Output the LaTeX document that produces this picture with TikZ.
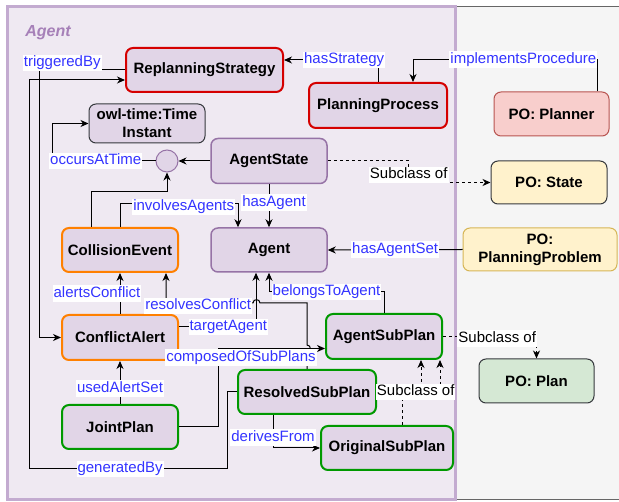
\documentclass[tikz,border=0pt]{standalone}
\usepackage{fontspec}
\setmainfont{Liberation Sans}
\usetikzlibrary{arrows.meta}

\definecolor{framefill}{HTML}{EFE9F2}
\definecolor{frameline}{HTML}{C3ABD0}
\definecolor{boxfill}{HTML}{E1D5E7}
\definecolor{purpleline}{HTML}{9673A6}
\definecolor{redline}{HTML}{D50000}
\definecolor{orangeline}{HTML}{FF8000}
\definecolor{greenline}{HTML}{009900}
\definecolor{linkblue}{HTML}{3333FF}
\definecolor{grayfill}{HTML}{F5F5F5}
\definecolor{grayline}{HTML}{666666}
\definecolor{plannerfill}{HTML}{F8CECC}
\definecolor{plannerline}{HTML}{B85450}
\definecolor{statefill}{HTML}{FFF2CC}
\definecolor{problemline}{HTML}{D6B656}
\definecolor{planfill}{HTML}{D5E8D4}
\definecolor{darkline}{HTML}{36393D}
\definecolor{titlecol}{HTML}{A680B8}

\tikzset{
  cls/.style={draw=purpleline, line width=1.5pt, fill=boxfill, rounded corners=7pt,
    minimum width=116pt, minimum height=44pt, inner sep=0pt, align=center,
    font=\fontsize{15pt}{18pt}\selectfont\bfseries},
  redcls/.style={cls, draw=redline, line width=2pt},
  orangecls/.style={cls, draw=orangeline, line width=2pt},
  greencls/.style={cls, draw=greenline, line width=2pt},
  pocls/.style={cls, line width=1pt},
  lbl/.style={fill=white, text=linkblue, inner sep=1pt, text height=11pt, text depth=3.5pt,
    font=\fontsize{15pt}{18pt}\selectfont},
  sub/.style={lbl, text=black},
  rel/.style={-{Stealth[length=8pt,width=7pt,inset=2.5pt]}, line width=1pt},
  subrel/.style={rel, dash pattern=on 3pt off 3pt},
  title/.style={text=titlecol, font=\fontsize{16pt}{18pt}\selectfont\bfseries\itshape}
}

\begin{document}
\begin{tikzpicture}[x=1pt,y=-1pt]
  \useasboundingbox (0,0) rectangle (619,502);
  % frames
  \draw[grayline, fill=grayfill, line width=1pt] (456,7) rectangle (640,500);
  \draw[frameline, fill=framefill, line width=3pt] (7,7) rectangle (455,500);
  \node[title] (agentTitle) at (48,33) {Agent};

  % classes
  \node[redcls, minimum width=157pt] (RS) at (204.5,70) {ReplanningStrategy};
  \node[redcls, minimum width=138pt, minimum height=45pt] (PP) at (378,105.5) {PlanningProcess};
  \node[pocls, fill=plannerfill, draw=plannerline, minimum width=115pt] (Planner) at (551.5,114) {PO: Planner};
  \node[cls, draw=darkline, line width=1pt, minimum height=39pt] (Time) at (147,123.5) {owl-time:Time\\Instant};
  \node[circle, draw=purpleline, fill=boxfill, line width=1pt, minimum size=22pt, inner sep=0pt] (Dot) at (167,161) {};
  \node[cls, minimum height=45pt] (AState) at (269,161) {AgentState};
  \node[pocls, fill=statefill, draw=darkline, minimum height=43pt] (PState) at (549,182.5) {PO: State};
  \node[orangecls] (CEvent) at (120,250) {CollisionEvent};
  \node[cls] (AgentN) at (269,250) {Agent};
  \node[pocls, fill=statefill, draw=problemline, minimum width=154pt, minimum height=43pt] (Problem) at (540,249.5) {PO:\\PlanningProblem};
  \node[orangecls, minimum height=45pt] (CAlert) at (120,337.5) {ConflictAlert};
  \node[greencls, minimum height=45pt] (ASub) at (384,336.5) {AgentSubPlan};
  \node[pocls, fill=planfill, draw=darkline, minimum width=115pt] (Plan) at (536.5,381) {PO: Plan};
  \node[greencls] (JPlan) at (120,427) {JointPlan};
  \node[greencls, minimum width=138pt] (RSub) at (307,392) {ResolvedSubPlan};
  \node[greencls, minimum width=132pt] (OSub) at (387,448) {OriginalSubPlan};

  % relations
  \draw[rel] (PP.north) |- node[lbl, pos=0.68] {hasStrategy} ([yshift=10pt]RS.east);
  \draw[rel] ([xshift=45.5pt]Planner.north) -- ++(0,-32)
    -- node[lbl, pos=0.4] {implementsProcedure} ++(-184,0) -- ([xshift=35pt]PP.north);
  \draw[rel] (RS.west) -- node[lbl, pos=0.73, yshift=7pt] {triggeredBy} ++(-86,0) |- (CAlert.west);
  \draw[rel] (RSub.west) -- ++(-10,0) -- ++(0,77)
    -- node[lbl, pos=0.54] {generatedBy} ++(-198,0) |- ([yshift=-10pt]RS.west);
  \draw[rel] (Dot.west) -- node[lbl, pos=0.58] {occursAtTime} ++(-103,0) |- (Time.west);
  \draw[rel] (AState.west) -- (Dot.east);
  \draw[rel] ([xshift=-29pt]CEvent.north) -- ++(0,-35) -| (Dot.south);
  \draw[rel] (CEvent.north) -- ++(0,-23) -| node[lbl, pos=0.27, yshift=-3pt] {involvesAgents} ([xshift=-31pt]AgentN.north);
  \draw[rel] (AState.south) -- node[lbl, pos=0.42, xshift=5pt] {hasAgent} (AgentN.north);
  \draw[subrel] (AState.east) -- ++(81,0) |- node[sub, pos=0.33] {Subclass of} (PState.west);
  \draw[rel] (Problem.west) -- node[lbl] {hasAgentSet} (AgentN.east);
  \draw[rel] (CAlert.north) -- node[lbl, xshift=-23pt] {alertsConflict} (CEvent.south);
  \draw[rel] ([yshift=10.5pt]CAlert.east) -| node[lbl, pos=0.32] {targetAgent} ([xshift=-13pt]AgentN.south);
  \draw[rel] (ASub.north) -- ++(0,-21) -| node[lbl, pos=0.25] {belongsToAgent} (AgentN.south);
  \draw[rel] (RSub.north) -- (307,352) .. controls (311.5,352) and (311.5,345) .. (307,345)
    -- (307,303) -- (260,303) .. controls (260,298.5) and (253,298.5) .. (253,303)
    -- node[lbl, pos=0.63, yshift=-3pt] {resolvesConflict} (166,303) -- ([xshift=46pt]CEvent.south);
  \draw[rel] (JPlan.east) -- ++(39,0) |- node[lbl, pos=0.5, xshift=23pt, yshift=-9pt] {composedOfSubPlans} ([yshift=-12pt]ASub.west);
  \draw[rel] (JPlan.north) -- node[lbl, pos=0.36] {usedAlertSet} (CAlert.south);
  \draw[rel] ([xshift=-34pt]RSub.south) |- node[lbl, pos=0.34] {derivesFrom} (OSub.west);
  \draw[subrel] (ASub.east) -| node[sub, pos=0.29, yshift=-2pt] {Subclass of} (Plan.north);
  \draw[subrel] ([xshift=15pt]OSub.north) -- ++(0,-31) -| ([xshift=56pt]ASub.south);
  \draw[subrel] (RSub.east) -| node[sub, pos=0.44] {Subclass of} ([xshift=37pt]ASub.south);
\end{tikzpicture}
\end{document}
